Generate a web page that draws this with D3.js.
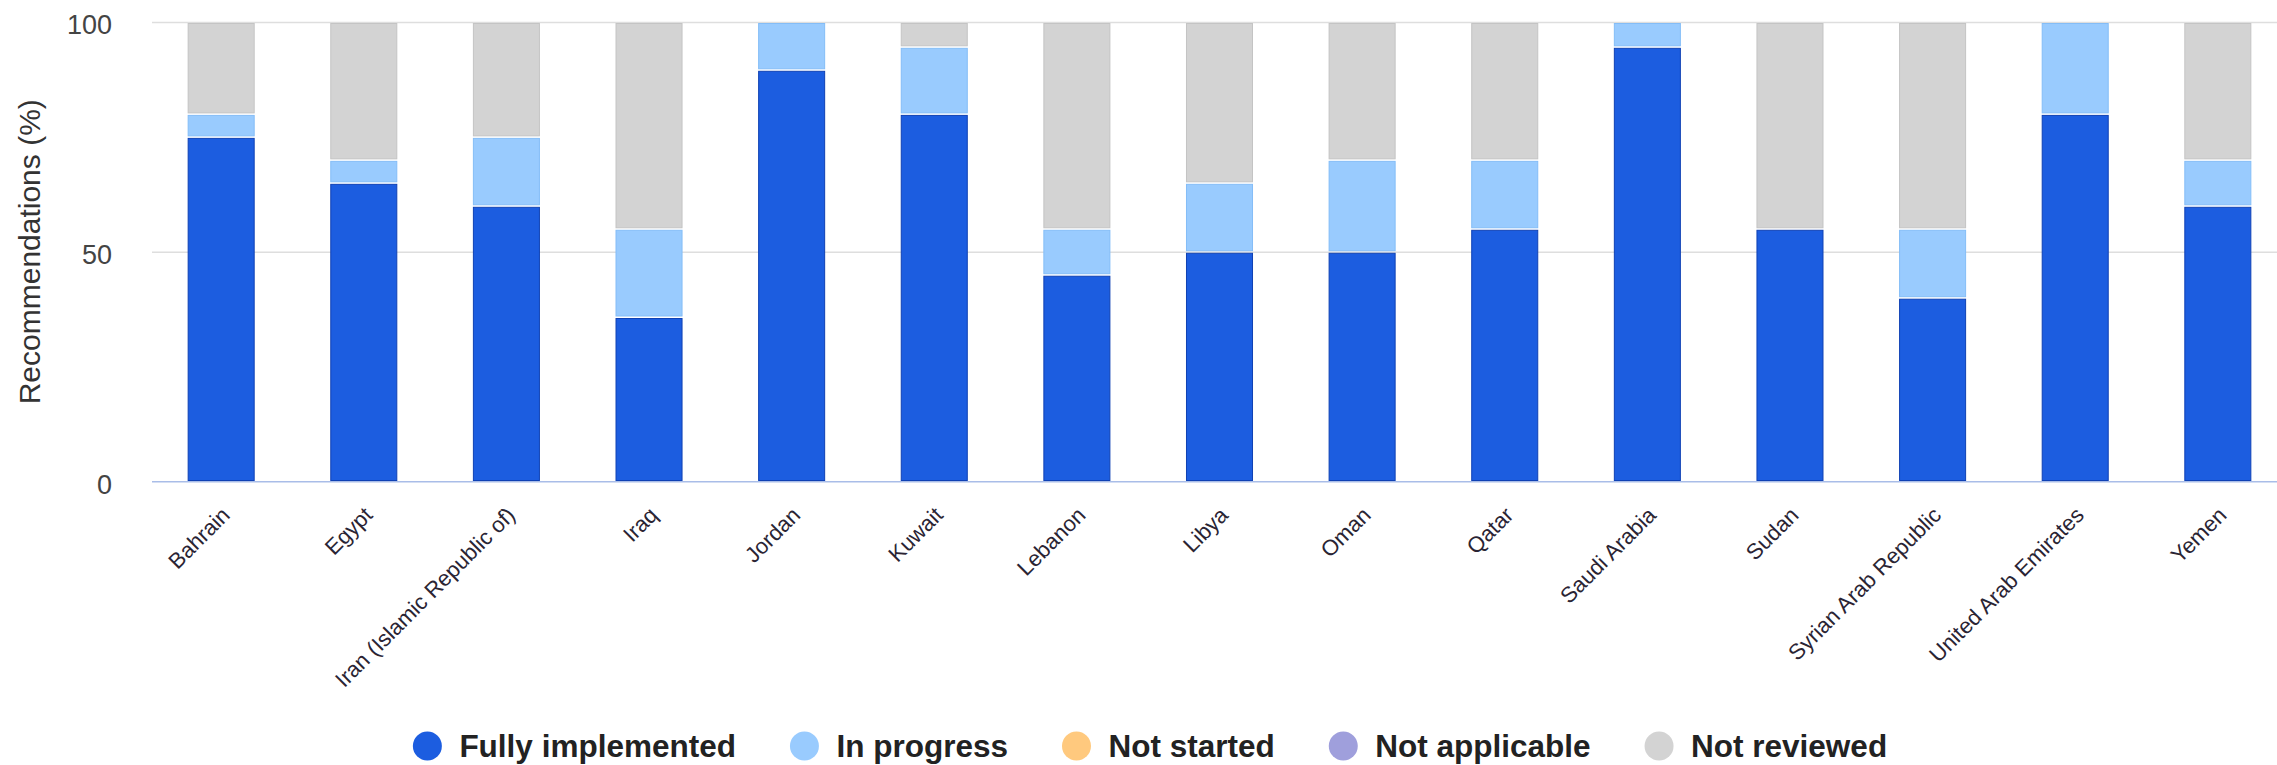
<!DOCTYPE html>
<html lang="en">

<head>
  <meta charset="utf-8">
  <script type="text/javascript" src="https://d3js.org/d3.v7.min.js"></script>
  <style>
    body { margin: 0; background: #fff; }
    svg { display: block; font-family: Arial, "Liberation Sans", sans-serif; }
  </style>
</head>

<body>
  <svg class="chart"></svg>
</body>

<script type="text/javascript">

  // values (percent of recommendations)
  const countries = ['Bahrain', 'Egypt', 'Iran (Islamic Republic of)', 'Iraq', 'Jordan', 'Kuwait',
    'Lebanon', 'Libya', 'Oman', 'Qatar', 'Saudi Arabia', 'Sudan', 'Syrian Arab Republic',
    'United Arab Emirates', 'Yemen'];
  const fullyImplemented = [75, 65, 60, 35.8, 89.6, 80, 45, 50, 50, 55, 94.6, 55, 40, 80, 60];
  const inProgress = [5, 5, 15, 19.2, 10.4, 14.6, 10, 15, 20, 15, 5.4, 0, 15, 20, 10];
  const notStarted = [0, 0, 0, 0, 0, 0, 0, 0, 0, 0, 0, 0, 0, 0, 0];
  const notApplicable = [0, 0, 0, 0, 0, 0, 0, 0, 0, 0, 0, 0, 0, 0, 0];
  const notReviewed = [20, 30, 25, 45, 0, 5.4, 45, 35, 30, 30, 0, 45, 45, 0, 30];
  const yTicks = [0, 50, 100];

  const seriesNames = ['Fully implemented', 'In progress', 'Not started', 'Not applicable', 'Not reviewed'];
  const seriesKeys = ['full', 'progress', 'started', 'na', 'reviewed'];
  const colors = ['#1c5de0', '#99cbfe', '#ffc97e', '#9f9fdc', '#d3d3d3'];
  const strokes = ['#0f41b4', '#84bdf7', '#f2b865', '#8a8ad0', '#c4c4c4'];

  const data = countries.map((c, i) => ({
    country: c,
    full: fullyImplemented[i],
    progress: inProgress[i],
    started: notStarted[i],
    na: notApplicable[i],
    reviewed: notReviewed[i]
  }));

  const W = 2277, H = 765;
  const plotLeft = 152, plotTop = 22, plotBottom = 481.5;

  const svg = d3.select('svg.chart')
    .attr('width', W)
    .attr('height', H);

  const xScale = d3.scaleBand()
    .domain(countries)
    .range([plotLeft, 2287])
    .paddingInner(0.53)
    .paddingOuter(0.25);

  const yScale = d3.scaleLinear()
    .domain([0, 100])
    .range([plotBottom, plotTop]);

  // gridlines + y labels
  const yAxis = d3.axisLeft(yScale)
    .tickValues(yTicks)
    .tickSize(-(W - plotLeft))
    .tickPadding(40);

  const gy = svg.append('g')
    .attr('class', 'y-axis')
    .attr('transform', `translate(${plotLeft},0)`)
    .call(yAxis);
  gy.select('.domain').remove();
  gy.selectAll('line')
    .attr('stroke', d => d === 0 ? 'none' : '#dedede')
    .attr('stroke-width', 1.6);
  gy.selectAll('text')
    .attr('fill', '#444')
    .style('font-size', '27px')
    .attr('dy', '0.35em')
    .attr('y', 2.5);

  svg.append('text')
    .attr('class', 'y-label')
    .attr('transform', `translate(40, ${(plotTop + plotBottom) / 2}) rotate(-90)`)
    .attr('text-anchor', 'middle')
    .attr('fill', '#333')
    .style('font-size', '30px')
    .text('Recommendations (%)');

  // stacked bars
  const stack = d3.stack().keys(seriesKeys);
  const layers = stack(data);

  svg.selectAll('.layer')
    .data(layers)
    .enter()
    .append('g')
    .attr('class', 'layer')
    .attr('fill', (d, i) => colors[i])
    .attr('stroke', (d, i) => strokes[i])
    .selectAll('rect')
    .data(d => d.filter(p => p[1] - p[0] > 0))
    .enter()
    .append('rect')
    .attr('x', d => xScale(d.data.country) + 0.5)
    .attr('width', xScale.bandwidth() - 1)
    .attr('y', d => yScale(d[1]) + 1.5)
    .attr('height', d => Math.max(0, yScale(d[0]) - yScale(d[1]) - 2.5))
    .attr('stroke-width', 1);

  // baseline
  svg.append('line')
    .attr('x1', plotLeft)
    .attr('x2', W)
    .attr('y1', yScale(0) + 0.3)
    .attr('y2', yScale(0) + 0.3)
    .attr('stroke', '#a9bde8')
    .attr('stroke-width', 1.6);

  // x labels
  const xAxis = d3.axisBottom(xScale).tickSize(0);
  const gx = svg.append('g')
    .attr('class', 'x-axis')
    .attr('transform', `translate(0, ${plotBottom})`)
    .call(xAxis);
  gx.select('.domain').remove();
  gx.selectAll('text')
    .attr('x', 0)
    .attr('y', 0)
    .attr('dy', 0)
    .attr('transform', 'translate(10, 35) rotate(-45)')
    .attr('text-anchor', 'end')
    .attr('fill', '#2a2433')
    .style('font-size', '22px');

  // legend
  const legend = svg.append('g').attr('class', 'legend');
  const items = legend.selectAll('.item')
    .data(seriesNames)
    .enter()
    .append('g')
    .attr('class', 'item');
  items.append('circle')
    .attr('r', 14.5)
    .attr('cy', 0)
    .attr('cx', 0)
    .attr('fill', (d, i) => colors[i]);
  items.append('text')
    .attr('x', 32)
    .attr('y', 0)
    .attr('dy', '0.35em')
    .attr('fill', '#222')
    .style('font-size', '31.5px')
    .style('font-weight', 'bold')
    .text(d => d);

  let cursor = 0;
  items.each(function () {
    const g = d3.select(this);
    const tw = g.select('text').node().getComputedTextLength();
    g.attr('transform', `translate(${cursor + 14.5}, 746)`);
    cursor += 14.5 + 32 + tw + 54;
  });
  const total = cursor - 54;
  legend.attr('transform', `translate(${1150 - total / 2}, 0)`);

</script>

</html>
